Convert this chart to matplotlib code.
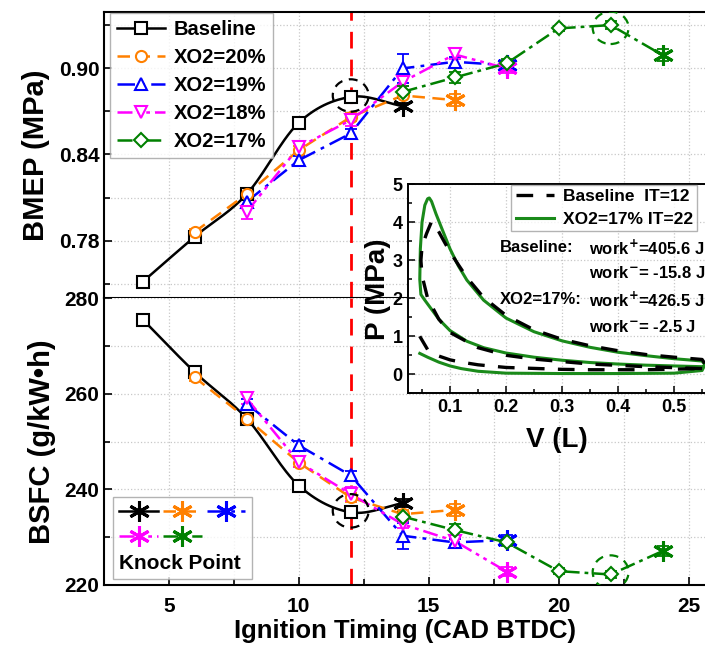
import numpy as np
import matplotlib
matplotlib.use('Agg')
import matplotlib.pyplot as plt
from matplotlib.lines import Line2D
from matplotlib.patches import Ellipse
from matplotlib.ticker import MultipleLocator, FormatStrFormatter

plt.rcParams['font.family'] = ['Liberation Sans', 'DejaVu Sans']
plt.rcParams['font.weight'] = 'bold'
plt.rcParams['axes.labelweight'] = 'bold'
plt.rcParams['mathtext.default'] = 'bf'

# ---------------- data ----------------
labels = ['Baseline', 'XO2=20%', 'XO2=19%', 'XO2=18%', 'XO2=17%']
it_base = [4, 6, 8, 10, 12, 14]
it_20 = [6, 8, 10, 12, 14, 16]
it_19 = [8, 10, 12, 14, 16, 18]
it_18 = [8, 10, 12, 14, 16, 18]
it_17 = [14, 16, 18, 20, 22, 24]

bmep_base = [0.7516, 0.7829, 0.8125, 0.862, 0.880, 0.8736]
bmep_20 = [0.7863, 0.8125, 0.843, 0.866, 0.881, 0.8778]
bmep_19 = [0.8072, 0.836, 0.8546, 0.8998, 0.9044, 0.902]
bmep_18 = [0.8002, 0.845, 0.8639, 0.8905, 0.9095, 0.8998]
bmep_17 = [0.8835, 0.8935, 0.9033, 0.9276, 0.9299, 0.909]

bmep_err_base = [0.001, 0.002, 0.002, 0.004, 0.003, 0.002]
bmep_err_20 = [0.002, 0.002, 0.003, 0.003, 0.002, 0.004]
bmep_err_19 = [0.004, 0.003, 0.003, 0.010, 0.003, 0.003]
bmep_err_18 = [0.005, 0.003, 0.004, 0.003, 0.003, 0.003]
bmep_err_17 = [0.004, 0.004, 0.003, 0.002, 0.003, 0.004]

bsfc_base = [275.5, 264.5, 254.8, 240.8, 235.2, 237.1]
bsfc_20 = [263.4, 254.8, 245.6, 238.3, 234.8, 235.7]
bsfc_19 = [257.9, 249.2, 242.9, 230.3, 228.9, 229.4]
bsfc_18 = [259.0, 245.7, 239.0, 232.7, 229.2, 222.8]
bsfc_17 = [234.3, 231.5, 228.9, 222.9, 222.2, 227.1]

bsfc_err_base = [0.3, 0.8, 0.8, 1.2, 0.8, 0.8]
bsfc_err_20 = [0.8, 0.8, 1.0, 1.0, 0.8, 1.2]
bsfc_err_19 = [1.0, 1.0, 1.0, 2.7, 0.8, 1.0]
bsfc_err_18 = [1.2, 1.0, 1.5, 0.8, 0.8, 1.0]
bsfc_err_17 = [1.0, 1.2, 0.8, 0.6, 0.8, 1.0]

# P-V loops (inset)
base_v = [0.55, 0.45, 0.35, 0.25, 0.20, 0.15, 0.10, 0.08, 0.06, 0.05, 0.048, 0.050, 0.058, 0.067,
          0.072, 0.08, 0.09, 0.10, 0.115, 0.13, 0.16, 0.20, 0.25, 0.30, 0.35, 0.40, 0.45, 0.50, 0.55,
          0.555, 0.55, 0.45, 0.35, 0.30, 0.20, 0.15, 0.12, 0.10, 0.08, 0.06, 0.046]
base_p = [0.15, 0.20, 0.27, 0.40, 0.50, 0.70, 1.10, 1.45, 2.00, 2.60, 3.00, 3.36, 3.70, 4.02,
          3.95, 3.75, 3.48, 3.22, 2.88, 2.55, 2.02, 1.55, 1.17, 0.92, 0.75, 0.62, 0.52, 0.45, 0.39,
          0.28, 0.15, 0.12, 0.12, 0.13, 0.18, 0.25, 0.32, 0.38, 0.48, 0.65, 1.00]
xo2_v = [0.55, 0.50, 0.45, 0.40, 0.35, 0.30, 0.25, 0.20, 0.16, 0.13, 0.10, 0.08, 0.065, 0.055, 0.048,
         0.046, 0.047, 0.050, 0.055, 0.060, 0.063,
         0.067, 0.075, 0.085, 0.10, 0.115, 0.13, 0.16, 0.20, 0.25, 0.30, 0.35, 0.40, 0.45, 0.50, 0.55,
         0.555, 0.55, 0.50, 0.40, 0.30, 0.20, 0.15, 0.12, 0.10, 0.08, 0.06, 0.046]
xo2_p = [0.20, 0.22, 0.24, 0.27, 0.31, 0.37, 0.45, 0.56, 0.70, 0.87, 1.15, 1.45, 1.75, 1.95, 2.10,
         2.50, 3.30, 4.00, 4.45, 4.62, 4.64,
         4.55, 4.22, 3.85, 3.30, 2.85, 2.48, 1.95, 1.48, 1.12, 0.88, 0.71, 0.58, 0.49, 0.41, 0.35,
         0.25, 0.10, 0.03, 0.02, 0.02, 0.03, 0.08, 0.15, 0.22, 0.32, 0.45, 0.55]

inset_labels = ['Baseline  IT=12', 'XO2=17% IT=22']

colors = ['black', '#FF8000', '#0000FF', '#FF00FF', '#008000']
styles = ['-', (0, (5, 3)), (0, (7, 2.5, 1.5, 2.5)), (0, (6, 2, 1.5, 2, 1.5, 2)), (0, (6, 2, 1.5, 2))]
markers = ['s', 'o', '^', 'v', 'D']
knock = (6, 2, 0)

its = [it_base, it_20, it_19, it_18, it_17]
bmeps = [bmep_base, bmep_20, bmep_19, bmep_18, bmep_17]
bmep_errs = [bmep_err_base, bmep_err_20, bmep_err_19, bmep_err_18, bmep_err_17]
bsfcs = [bsfc_base, bsfc_20, bsfc_19, bsfc_18, bsfc_17]
bsfc_errs = [bsfc_err_base, bsfc_err_20, bsfc_err_19, bsfc_err_18, bsfc_err_17]


def catmull(x, y, n=30):
    x = np.asarray(x, float); y = np.asarray(y, float)
    px = np.concatenate([[2 * x[0] - x[1]], x, [2 * x[-1] - x[-2]]])
    py = np.concatenate([[2 * y[0] - y[1]], y, [2 * y[-1] - y[-2]]])
    xs, ys = [], []
    t = np.linspace(0, 1, n)
    for i in range(1, len(px) - 2):
        for arr, out in ((px, xs), (py, ys)):
            p0, p1, p2, p3 = arr[i - 1], arr[i], arr[i + 1], arr[i + 2]
            out.extend(0.5 * ((2 * p1) + (-p0 + p2) * t + (2 * p0 - 5 * p1 + 4 * p2 - p3) * t ** 2
                              + (-p0 + 3 * p1 - 3 * p2 + p3) * t ** 3))
    return xs, ys


W, H = 705, 652
fig = plt.figure(figsize=(W / 100, H / 100), dpi=100)
L = 104.3 / W
R = 706 / W
ax1 = fig.add_axes([L, 1 - 298 / H, R - L, (298 - 11.7) / H])
ax2 = fig.add_axes([L, 1 - 585 / H, R - L, (585 - 298) / H], sharex=ax1)

grid_kw = dict(color='#c8c8c8', linestyle=':', linewidth=0.9)


def draw(ax, ys, errs):
    for i in range(5):
        x = its[i]; y = ys[i]; e = errs[i]
        c = colors[i]
        if i == 0:
            sx, sy = catmull(x, y)
            ax.plot(sx, sy, color=c, lw=1.8, ls='-', zorder=3)
        else:
            ax.plot(x, y, color=c, lw=1.8, ls=styles[i], zorder=3)
        ax.errorbar(x, y, yerr=e, fmt='none', ecolor=c, elinewidth=1.3, capsize=4, capthick=1.3, zorder=3)
        ax.plot(x[:-1], y[:-1], ls='none', marker=markers[i], ms=8 if markers[i] != 'D' else 7,
                mfc='white', mec=c, mew=1.5, zorder=4)
        ax.plot(x[-1:], y[-1:], ls='none', marker=knock, ms=15, mec=c, mew=2.2, zorder=4)


draw(ax1, bmeps, bmep_errs)
draw(ax2, bsfcs, bsfc_errs)

for ax in (ax1, ax2):
    ax.axvline(12, color='red', lw=2, dashes=(6, 4), zorder=2)
    ax.set_xlim(2.52, 25.67)
    ax.xaxis.set_major_locator(MultipleLocator(5))
    ax.xaxis.set_minor_locator(MultipleLocator(2.5))
    ax.tick_params(which='both', direction='in', labelsize=15, width=1.2)
    ax.tick_params(which='major', length=6)
    ax.tick_params(which='minor', length=4)
    ax.tick_params(axis='x', pad=9)
    ax.grid(True, which='both', **grid_kw)
    ax.set_axisbelow(True)
    for s in ax.spines.values():
        s.set_linewidth(1.5)
    ax.spines['right'].set_visible(False)
    for lab in ax.get_xticklabels() + ax.get_yticklabels():
        lab.set_fontweight('bold')

ax1.set_ylim(0.7403, 0.9392)
ax1.yaxis.set_major_locator(MultipleLocator(0.06))
ax1.yaxis.set_minor_locator(MultipleLocator(0.03))
ax1.yaxis.set_major_formatter(FormatStrFormatter('%.2f'))
ax1.tick_params(axis='x', labelbottom=False, bottom=False, which='both')
ax1.set_ylabel('BMEP (MPa)', fontsize=21, labelpad=6)

ax2.set_ylim(220, 280)
ax2.yaxis.set_major_locator(MultipleLocator(20))
ax2.yaxis.set_minor_locator(MultipleLocator(10))
ax2.set_ylabel('BSFC (g/kW\u2022h)', fontsize=21, labelpad=6)
ax2.set_xlabel('Ignition Timing (CAD BTDC)', fontsize=18.5, labelpad=2)
ax2.spines['top'].set_visible(False)

# highlight circles
for ax, cx, cy, hh, c in [(ax1, 12, 0.881, 0.0225, 'black'), (ax1, 22, 0.928, 0.0225, '#008000'),
                          (ax2, 12, 235.5, 7.0, 'black'), (ax2, 22, 222.7, 7.0, '#008000')]:
    ax.add_patch(Ellipse((cx, cy), 1.38, hh, fill=False, ec=c, lw=1.6, ls=(0, (4, 3)), zorder=5))

# top legend
handles = [Line2D([], [], color=colors[i], ls=styles[i], lw=1.8, marker=markers[i],
                  ms=8 if markers[i] != 'D' else 7, mfc='white', mec=colors[i], mew=1.5) for i in range(5)]
aw, ah = 706 - 104.3, 298 - 11.7
leg = ax1.legend(handles, labels, loc='upper left',
                 bbox_to_anchor=((110 - 104.3) / aw, 1 - (13 - 11.7) / ah),
                 prop={'weight': 'bold', 'size': 14.5}, frameon=True, fancybox=False,
                 edgecolor='#a0a0a0', handlelength=2.4, labelspacing=0.45,
                 borderaxespad=0.0, borderpad=0.35, handletextpad=0.4)
leg.get_frame().set_linewidth(1.0)

# knock legend
order = [0, 3, 1, 4, 2]
khandles = [Line2D([], [], color=colors[i], ls=styles[i], lw=1.8, marker=knock, ms=15, mec=colors[i], mew=2.2)
            for i in order]
kleg = ax2.legend(khandles, [''] * 5, ncol=3, loc='lower left',
                  bbox_to_anchor=((113 - 104.3) / aw, (585 - 579) / 287.0),
                  title='Knock Point', prop={'weight': 'bold', 'size': 15},
                  title_fontproperties={'weight': 'bold', 'size': 15}, frameon=True, fancybox=False,
                  edgecolor='#a0a0a0', handlelength=1.85, handletextpad=0.0, columnspacing=0.25,
                  borderaxespad=0.0, borderpad=0.3, labelspacing=0.3)
kleg.get_frame().set_linewidth(1.0)
kleg._legend_box._children.reverse()
kleg._legend_box.align = 'left'

# inset P-V
ins = fig.add_axes([408.3 / W, 1 - 393.3 / H, (706 - 408.3) / W, (393.3 - 184.3) / H])
ins.set_facecolor('white')
ins.plot(xo2_v, xo2_p, color='#1a8a1a', lw=2.2, zorder=3)
ins.plot(base_v, base_p, color='black', lw=2.4, dashes=(5, 4), zorder=4)
ins.set_xlim(0.0255, 0.557)
ins.set_ylim(-0.5, 5)
ins.xaxis.set_major_locator(MultipleLocator(0.1))
ins.xaxis.set_minor_locator(MultipleLocator(0.05))
ins.yaxis.set_major_locator(MultipleLocator(1))
ins.yaxis.set_minor_locator(MultipleLocator(0.5))
ins.tick_params(which='both', direction='in', labelsize=13, width=1.1, pad=4)
ins.tick_params(which='major', length=5)
ins.tick_params(which='minor', length=3)
for lab in ins.get_xticklabels() + ins.get_yticklabels():
    lab.set_fontweight('bold')
ins.grid(True, which='major', **grid_kw)
ins.set_axisbelow(True)
for s in ins.spines.values():
    s.set_linewidth(1.4)
ins.spines['right'].set_visible(False)
ins.set_xlabel('V (L)', fontsize=20, labelpad=8)
ins.set_ylabel('P (MPa)', fontsize=20, labelpad=1)
ih = [Line2D([], [], color='black', lw=2.4, dashes=(5, 4)), Line2D([], [], color='#1a8a1a', lw=2.2)]
ileg = ins.legend(ih, inset_labels, loc='upper right',
                  bbox_to_anchor=((697 - 408.3) / 297.7, (393.3 - 185) / 209.0),
                  prop={'weight': 'bold', 'size': 12.5}, frameon=True, fancybox=False, edgecolor='#a0a0a0',
                  handlelength=2.2, labelspacing=0.4, borderpad=0.25, handletextpad=0.5, borderaxespad=0.0)
ileg.get_frame().set_linewidth(1.0)

tk = dict(fontsize=12, fontweight='bold', va='center', ha='left')
fig.text(500 / W, 1 - 248 / H, 'Baseline:', **tk)
fig.text(589 / W, 1 - 248 / H, r'work$^{+}$=405.6 J', **tk)
fig.text(589 / W, 1 - 273 / H, r'work$^{-}$= -15.8 J', **tk)
fig.text(500 / W, 1 - 300 / H, 'XO2=17%:', **tk)
fig.text(589 / W, 1 - 300 / H, r'work$^{+}$=426.5 J', **tk)
fig.text(589 / W, 1 - 327 / H, r'work$^{-}$= -2.5 J', **tk)

fig.savefig('out.png', dpi=100)
